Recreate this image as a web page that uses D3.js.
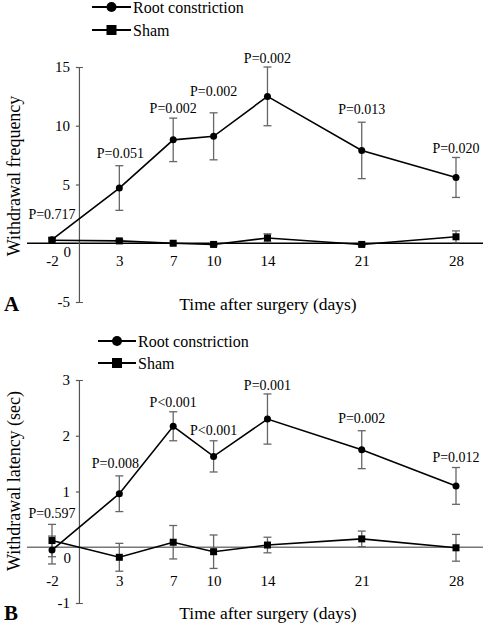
<!DOCTYPE html>
<html><head><meta charset="utf-8">
<script src="https://cdn.jsdelivr.net/npm/d3@7"></script>
<style>body{margin:0;background:#fff}</style>
</head><body><svg id="c" width="484" height="626"></svg>
<script>
const days = [-2, 3, 7, 10, 14, 21, 28];
const seriesNames = ["Root constriction", "Sham"];

const freqRoot = [0.3, 4.7, 8.8, 9.1, 12.5, 7.9, 5.6];
const freqRootErr = [0.2, 1.9, 1.85, 2.0, 2.5, 2.4, 1.7];
const freqSham = [0.25, 0.2, 0.0, -0.1, 0.45, -0.1, 0.55];
const freqShamErr = [0.15, 0.1, 0.05, 0.1, 0.35, 0.1, 0.5];
const freqP = ["P=0.717", "P=0.051", "P=0.002", "P=0.002", "P=0.002", "P=0.013", "P=0.020"];
const freqPAt = [2.52, 7.7, 11.5, 12.97, 15.8, 11.45, 8.1];
const freqTicks = [-5, 0, 5, 10, 15];

const latRoot = [-0.05, 0.96, 2.17, 1.63, 2.3, 1.75, 1.1];
const latRootErr = [0.25, 0.32, 0.26, 0.28, 0.45, 0.34, 0.33];
const latSham = [0.12, -0.18, 0.09, -0.08, 0.04, 0.15, -0.01];
const latShamErr = [0.29, 0.25, 0.3, 0.3, 0.14, 0.14, 0.24];
const latP = ["P=0.597", "P=0.008", "P<0.001", "P<0.001", "P=0.001", "P=0.002", "P=0.012"];
const latPAt = [0.61, 1.51, 2.6, 2.11, 2.9, 2.31, 1.61];
const latTicks = [-1, 0, 1, 2, 3];

const FONT = "'Liberation Serif', 'Times New Roman', serif";
const svg = d3.select("#c").attr("font-family", FONT);
const x = d3.scaleLinear().domain([-2, 28]).range([52, 456]);
const fmt = d => String(d);

function panel(o) {
  const g = svg.append("g").attr("font-family", FONT);
  const y = d3.scaleLinear().domain(o.domain).range(o.range);
  const y0 = y(0);
  g.append("line").attr("x1", 27).attr("x2", 483).attr("y1", y0).attr("y2", y0)
    .attr("stroke", o.zeroColor).attr("stroke-width", 1.3);
  const ax = g.append("g").attr("transform", `translate(${x(0)},0)`)
    .call(d3.axisLeft(y).tickValues(o.ticks).tickSizeInner(3).tickSizeOuter(-4).tickPadding(6).tickFormat(fmt));
  ax.attr("font-family", FONT);
  ax.selectAll("path,line").attr("stroke", "#555").attr("stroke-width", 1.2);
  ax.selectAll("text").attr("font-size", 15).attr("fill", "#000").attr("font-family", FONT);
  ax.selectAll(".tick").filter(d => d === 0).select("text").attr("dy", o.zeroDy).attr("x", -8);
  ax.selectAll(".tick").filter(d => d === 0).select("line").remove();
  const xa = g.append("g").attr("transform", `translate(0,${y0 + o.xLabOff})`)
    .call(d3.axisBottom(x).tickValues(days).tickSize(0).tickPadding(0).tickFormat(fmt));
  xa.attr("font-family", FONT);
  xa.select(".domain").remove();
  xa.selectAll("text").attr("font-size", 15).attr("fill", "#000").attr("font-family", FONT);

  const line = d3.line().x(d => x(d[0])).y(d => y(d[1]));
  const sets = [
    {v: o.root, e: o.rootErr, shape: "circle"},
    {v: o.sham, e: o.shamErr, shape: "square"}
  ];
  sets.forEach(s => {
    const eb = g.append("g");
    days.forEach((d, i) => {
      const top = y(s.v[i] + s.e[i]), bot = y(s.v[i] - s.e[i]), cx = x(d);
      eb.append("line").attr("x1", cx).attr("x2", cx).attr("y1", top).attr("y2", bot);
      eb.append("line").attr("x1", cx - 4).attr("x2", cx + 4).attr("y1", top).attr("y2", top);
      eb.append("line").attr("x1", cx - 4).attr("x2", cx + 4).attr("y1", bot).attr("y2", bot);
    });
    eb.selectAll("line").attr("stroke", "#666").attr("stroke-width", 1.3);
  });
  sets.forEach(s => {
    g.append("path").datum(days.map((d, i) => [d, s.v[i]])).attr("d", line)
      .attr("fill", "none").attr("stroke", "#000").attr("stroke-width", 1.6);
  });
  sets.forEach(s => {
    days.forEach((d, i) => {
      if (s.shape === "circle") g.append("circle").attr("cx", x(d)).attr("cy", y(s.v[i])).attr("r", 3.5).attr("fill", "#000");
      else g.append("rect").attr("x", x(d) - 3.5).attr("y", y(s.v[i]) - 3.5).attr("width", 7).attr("height", 7).attr("fill", "#000");
    });
  });
  days.forEach((d, i) => {
    g.append("text").attr("x", x(d) + (o.pDx[i] || 0)).attr("y", y(o.pAt[i])).attr("dy", "0.35em")
      .attr("text-anchor", "middle").attr("font-size", 14).text(o.p[i]);
  });
  seriesNames.forEach((n, i) => {
    const ly = o.legY[i], lx0 = o.legX[0], lx1 = o.legX[1], mx = (lx0 + lx1) / 2;
    g.append("line").attr("x1", lx0).attr("x2", lx1).attr("y1", ly).attr("y2", ly).attr("stroke", "#000").attr("stroke-width", 2);
    if (i === 0) g.append("circle").attr("cx", mx).attr("cy", ly).attr("r", 5).attr("fill", "#000");
    else g.append("rect").attr("x", mx - 5).attr("y", ly - 5).attr("width", 10).attr("height", 10).attr("fill", "#000");
    g.append("text").attr("x", lx1 + 2).attr("y", ly).attr("dy", "0.35em").attr("font-size", 16).text(n);
  });
  g.append("text").attr("transform", `translate(${o.yTitle[0]},${o.yTitle[1]}) rotate(-90)`)
    .attr("text-anchor", "middle").attr("dy", "0.35em").attr("font-size", 18).text(o.yLabel);
  g.append("text").attr("x", 268).attr("y", o.xTitleY).attr("dy", "0.35em").attr("text-anchor", "middle")
    .attr("font-size", 17.5).text("Time after surgery (days)");
  g.append("text").attr("x", 4).attr("y", o.xTitleY).attr("dy", "0.35em").attr("font-size", 21)
    .attr("font-weight", "bold").text(o.letter);
}

panel({
  domain: [-5, 15], range: [302, 67], ticks: freqTicks, zeroColor: "#000", zeroDy: "0.9em", xLabOff: 12,
  root: freqRoot, rootErr: freqRootErr, sham: freqSham, shamErr: freqShamErr,
  p: freqP, pAt: freqPAt, pDx: [0, 1, 0, 0, 0, 0, 0],
  legY: [7, 30], legX: [92, 131], yTitle: [14, 176], yLabel: "Withdrawal frequency", xTitleY: 304, letter: "A"
});
panel({
  domain: [-1, 3], range: [603, 380], ticks: latTicks, zeroColor: "#777", zeroDy: "1.05em", xLabOff: 28,
  root: latRoot, rootErr: latRootErr, sham: latSham, shamErr: latShamErr,
  p: latP, pAt: latPAt, pDx: [0, -4, 0, 0, 0, 0, 0],
  legY: [341, 363], legX: [98, 136], yTitle: [14, 481], yLabel: "Withdrawal latency (sec)", xTitleY: 613, letter: "B"
});
</script></body></html>
